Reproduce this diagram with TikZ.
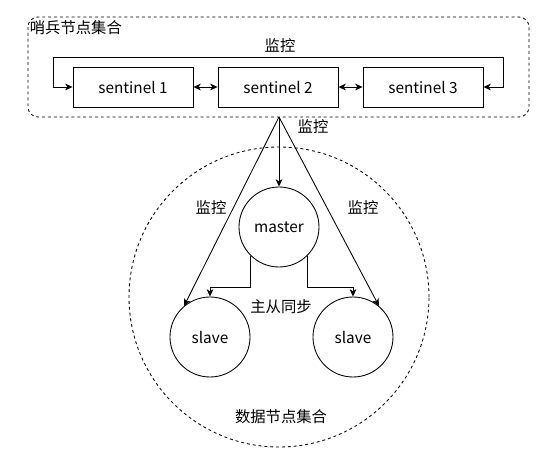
\documentclass[tikz,border=0pt]{standalone}
\usepackage{fontspec}
\setmainfont{Noto Sans CJK SC}
\usetikzlibrary{positioning}
\usetikzlibrary{arrows.meta}

\begin{document}
\begin{tikzpicture}[%
  >={Stealth[length=5.5pt,width=5pt,inset=1.6pt]},
  x=0.75pt, y=-0.75pt,
  line width=0.65pt,
  every node/.style={font=\fontsize{11.5}{13}\selectfont},
  sentinelbox/.style={draw, minimum width=90pt, minimum height=30pt},
  redisnode/.style={draw, circle, minimum size=60pt, inner sep=0pt},
  grouping/.style={dash pattern=on 2.2pt off 2.2pt},
]

  \useasboundingbox (0,0) rectangle (551,464);

  \draw[grouping, rounded corners=7.5pt] (28,17) rectangle (529,117);
  \draw[grouping] (279,297) circle (112.5pt);

  \node[anchor=west] (sgroup) at (25,28) {哨兵节点集合};
  \node (dgroup) at (281,417) {数据节点集合};

  \node[sentinelbox] (s1) at (133,87) {sentinel 1};
  \node[sentinelbox] (s2) at (278,87) {sentinel 2};
  \node[sentinelbox] (s3) at (423,87) {sentinel 3};

  \node[redisnode] (ms) at (279,227) {master};
  \node[redisnode] (sl1) at (210,337) {slave};
  \node[redisnode] (sl2) at (353,337) {slave};

  \coordinate (lp1) at (53,57);
  \coordinate (lp2) at (503,57);
  \coordinate (apex) at (279,117);

  \draw[<->] (s1.west) -| (lp1) -- (lp2) |- (s3.east);
  \draw[<->] (s1) -- (s2);
  \draw[<->] (s2) -- (s3);
  \node (mon0) at (280,46) {监控};

  \draw[->] (apex) -- (ms);
  \draw[->] (apex) -- (sl1.130);
  \draw[->] (apex) -- (sl2.50);
  \node (mon1) at (313,127) {监控};
  \node (mon2) at (211,208) {监控};
  \node (mon3) at (363,208) {监控};

  \draw[->] (ms.225) -- ++(0,32) -| (sl1.north);
  \draw[->] (ms.315) -- ++(0,32) -| (sl2.north);
  \node (sync) at (281,307) {主从同步};

\end{tikzpicture}
\end{document}
